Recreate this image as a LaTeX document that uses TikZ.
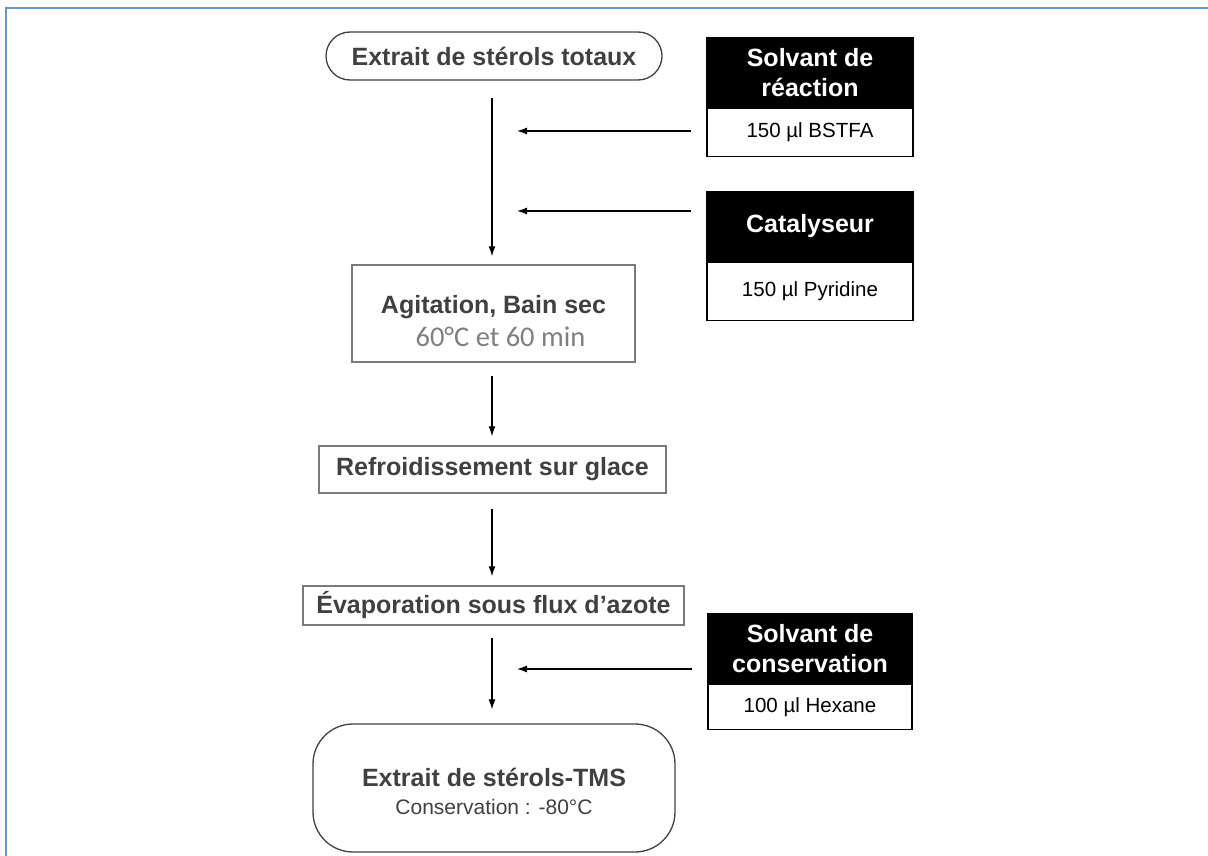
\documentclass[tikz,border=0pt]{standalone}
\usepackage{fontspec}
\setmainfont{Liberation Sans}
\newfontfamily\calibrifont{Carlito}
\usetikzlibrary{arrows.meta, positioning}

\definecolor{frameblue}{HTML}{5B9BD5}
\definecolor{textgrey}{HTML}{404040}
\definecolor{boxgrey}{HTML}{7A7A7A}
\definecolor{softgrey}{HTML}{7F7F7F}

\begin{document}
\begin{tikzpicture}[x=1pt, y=-1pt,
    stepbox/.style={draw=boxgrey, line width=1.5pt, text=textgrey, inner sep=0pt,
        font=\fontsize{25}{30}\selectfont\bfseries, align=center},
    endbox/.style={draw=textgrey, line width=1.3pt, inner sep=0pt},
    head/.style={draw=black, fill=black, line width=1.5pt, text=white, inner sep=0pt,
        minimum width=206pt, font=\fontsize{25}{30}\selectfont\bfseries, align=center},
    dose/.style={draw=black, fill=white, line width=1.5pt, inner sep=0pt,
        minimum width=206pt, font=\fontsize{20.5}{24}\selectfont},
    flow/.style={line width=1.2pt, -{Latex[length=10pt,width=7pt]}}
]
\useasboundingbox (0,0) rectangle (1208,856);

% frame
\draw[frameblue, line width=2.5pt] (6,856) -- (6,8) -- (1208,8);

% =========================
% main steps
% =========================
\node[endbox, rounded corners=24pt, minimum width=336pt, minimum height=48pt,
      text=textgrey, font=\fontsize{25}{30}\selectfont\bfseries]
    (total) at (494,56) {Extrait de stérols totaux};

\node[stepbox, minimum width=283pt, minimum height=97pt] (agit) at (493.5,313.5) {};
\node[text=textgrey, font=\fontsize{25}{33}\selectfont\bfseries, align=center]
    (agittxt) at ([yshift=-8pt]agit.center)
    {Agitation, Bain sec\\\hspace*{14pt}{\calibrifont\mdseries\fontsize{28.5}{33}\selectfont\color{softgrey}60°C et 60 min}};

\node[stepbox, minimum width=347pt, minimum height=47pt] (cool) at (492.5,469.5)
    {Refroidissement sur glace};

\node[stepbox, minimum width=381pt, minimum height=39pt] (evap) at (493.5,605.5)
    {Évaporation sous flux d’azote};

\node[endbox, rounded corners=40pt, minimum width=362pt, minimum height=128pt]
    (tms) at (494,788) {};
\node[text=textgrey, align=center, font=\fontsize{25}{28}\selectfont\bfseries]
    (tmstxt) at ([yshift=-3pt]tms.center)
    {Extrait de stérols-TMS\\{\mdseries\fontsize{21}{24}\selectfont Conservation : -80°C}};

% =========================
% reagents
% =========================
\node[head, minimum height=69pt] (react) at (810,72.5) {Solvant de\\réaction};
\node[dose, minimum height=48pt, below=0pt of react] (bstfa) {150 µl BSTFA};

\node[head, minimum height=69pt] (cata) at (810,226.5) {Catalyseur};
\node[dose, minimum height=58pt, below=0pt of cata] (pyr) {150 µl Pyridine};

\node[head, minimum height=69pt, minimum width=204pt] (cons) at (810,648.5) {Solvant de\\conservation};
\node[dose, minimum height=45pt, minimum width=204pt, below=0pt of cons] (hex) {100 µl Hexane};

% meeting points on the main line
\coordinate (in1) at (517,131);
\coordinate (in2) at (517,211);
\coordinate (in3) at (517,669);

% =========================
% arrows
% =========================
\draw[flow, shorten <=17pt, shorten >=8pt] (total.south -| 492,0) -- (agit.north -| 492,0);
\draw[flow, shorten <=13pt, shorten >=9pt] (agit.south -| 492,0) -- (cool.north -| 492,0);
\draw[flow, shorten <=15pt, shorten >=9pt] (cool.south -| 492,0) -- (evap.north -| 492,0);
\draw[flow, shorten <=12pt, shorten >=14pt] (evap.south -| 492,0) -- (tms.north -| 492,0);

\draw[flow, shorten <=15pt] (bstfa.west |- in1) -- (in1);
\draw[flow, shorten <=15pt] (cata.west |- in2) -- (in2);
\draw[flow, shorten <=15pt] (cons.west |- in3) -- (in3);

\end{tikzpicture}
\end{document}
